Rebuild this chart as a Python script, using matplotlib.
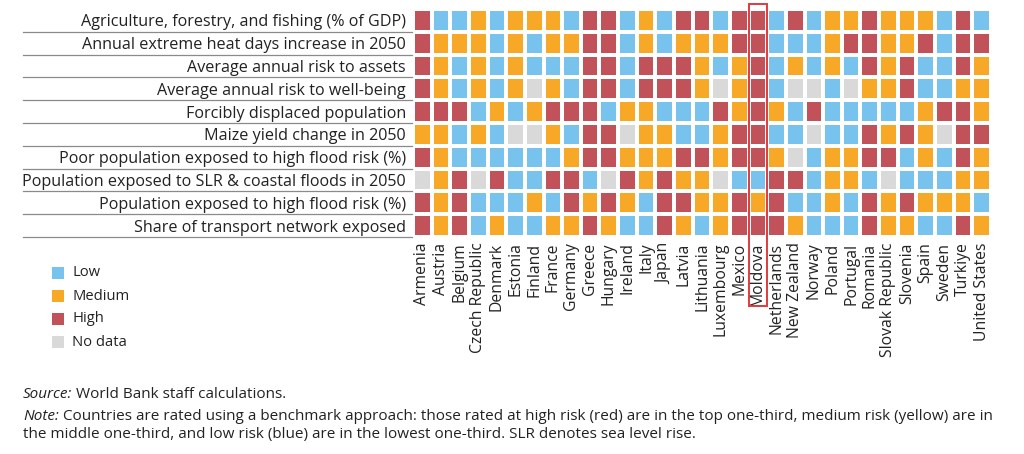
import matplotlib
matplotlib.use("Agg")
import matplotlib.pyplot as plt
import numpy as np
from matplotlib.colors import ListedColormap
from matplotlib.patches import Rectangle
from matplotlib.transforms import blended_transform_factory
from matplotlib.lines import Line2D

plt.rcParams['font.family'] = ['Open Sans', 'DejaVu Sans']

countries = ["Armenia", "Austria", "Belgium", "Czech Republic", "Denmark", "Estonia",
             "Finland", "France", "Germany", "Greece", "Hungary", "Ireland", "Italy",
             "Japan", "Latvia", "Lithuania", "Luxembourg", "Mexico", "Moldova",
             "Netherlands", "New Zealand", "Norway", "Poland", "Portugal", "Romania",
             "Slovak Republic", "Slovenia", "Spain", "Sweden", "Turkiye", "United States"]

indicators = ["Agriculture, forestry, and fishing (% of GDP)",
              "Annual extreme heat days increase in 2050",
              "Average annual risk to assets",
              "Average annual risk to well-being",
              "Forcibly displaced population",
              "Maize yield change in 2050",
              "Poor population exposed to high flood risk (%)",
              "Population exposed to SLR & coastal floods in 2050",
              "Population exposed to high flood risk (%)",
              "Share of transport network exposed"]

# L = Low, M = Medium, H = High, N = No data
agriculture    = "H L L M L M M M L H H L M L H H L H H L H L M M H M M M L H L".split()
heat_days      = "H M M M L M L M M H H L M L M M M H H L L L M H H M M H L H H".split()
risk_assets    = "H M L M L M L L L H H L H H H M L M H L M L M L H M H L L H M".split()
risk_wellbeing = "H M L M L M N M L H H L H H H M N M H L N N L N M M H L L M M".split()
displaced      = "H H H L M L M H H H L M M L L L H M H M L H L L L L L M H H M".split()
maize          = "M M L M L N N M L H H N M M L L M H H L L N L L H M H M N H H".split()
poor_flood     = "H M L L L L L L M H H M M M H H M H H M N L M M H H L M L H M".split()
slr_coastal    = "N M H N H L L H H L N H M H M M N L L H H L M M L N L L L M M".split()
pop_flood      = "H M H L L L M L H M H M L H H M M H M H L L M L H M H M M M L".split()
transport      = "H M H L M L L M M H M L L H M L M H H H M L L L H M M L L H M".split()

rows = [agriculture, heat_days, risk_assets, risk_wellbeing, displaced,
        maize, poor_flood, slr_coastal, pop_flood, transport]

levels = ["L", "M", "H", "N"]
level_names = ["Low", "Medium", "High", "No data"]
colors = ["#78C2EE", "#F6A826", "#C1525A", "#D9D9D9"]
highlight = "Moldova"

source_label = "Source:"
source_text = " World Bank staff calculations."
note_label = "Note:"
note_line1 = (" Countries are rated using a benchmark approach: those rated at high risk (red) "
              "are in the top one-third, medium risk (yellow) are in")
note_line2 = ("the middle one-third, and low risk (blue) are in the lowest one-third. "
              "SLR denotes sea level rise.")

grid = np.array([[levels.index(v) for v in r] for r in rows])

fig = plt.figure(figsize=(10.24, 4.54), dpi=100)
W, H = 1024, 454
ax = fig.add_axes([413 / W, (H - 237) / H, 578 / W, 228 / H])
cmap = ListedColormap(colors)
ax.pcolormesh(np.arange(len(countries) + 1), np.arange(len(indicators) + 1), grid,
              cmap=cmap, vmin=-0.5, vmax=3.5, edgecolors="white", linewidth=1.6)
ax.set_xlim(0, len(countries))
ax.set_ylim(len(indicators), 0)
for s in ax.spines.values():
    s.set_visible(False)

txtc = "#222222"
ax.set_yticks(np.arange(len(indicators)) + 0.5)
ax.set_yticklabels(indicators, fontsize=11.6, color=txtc)
ax.set_xticks(np.arange(len(countries)) + 0.5)
ax.set_xticklabels(countries, rotation=90, fontsize=11.3, color=txtc)
ax.tick_params(axis="both", length=0)
ax.tick_params(axis="y", pad=5)
ax.tick_params(axis="x", pad=4)

# separator lines under each row label
tr = blended_transform_factory(fig.transFigure, ax.transData)
for i in range(1, len(indicators) + 1):
    fig.add_artist(Line2D([23 / W, 412 / W], [i, i], transform=tr,
                          color="#8A8A8A", linewidth=0.9))

# highlight box around Moldova
hi = countries.index(highlight)
trb = blended_transform_factory(ax.transData, fig.transFigure)
rect = Rectangle((hi, (H - 306) / H), 1, (306 - 4) / H, transform=trb,
                 fill=False, edgecolor="#E03A3E", linewidth=1.4, clip_on=False)
fig.add_artist(rect)

# legend
for k, (name, c) in enumerate(zip(level_names, colors)):
    yc = 273 + k * 23
    fig.add_artist(Rectangle((52 / W, (H - yc - 6) / H), 12 / W, 12 / H,
                             transform=fig.transFigure, facecolor=c, edgecolor="none"))
    fig.text(72 / W, (H - yc) / H, name, fontsize=10.6, color=txtc, va="center", ha="left")

fs = 11
t1 = fig.text(23 / W, (H - 402) / H, source_label, fontsize=fs, style="italic",
              color=txtc, va="bottom", ha="left")
fig.add_artist(matplotlib.text.Annotation(source_text, xy=(1, 0), xycoords=t1,
                                          fontsize=fs, color=txtc, va="bottom", ha="left"))
t2 = fig.text(23 / W, (H - 424) / H, note_label, fontsize=fs, style="italic",
              color=txtc, va="bottom", ha="left")
fig.add_artist(matplotlib.text.Annotation(note_line1, xy=(1, 0), xycoords=t2,
                                          fontsize=fs, color=txtc, va="bottom", ha="left"))
fig.text(23 / W, (H - 442) / H, note_line2, fontsize=fs, color=txtc, va="bottom", ha="left")

fig.savefig("out.png", dpi=100)
